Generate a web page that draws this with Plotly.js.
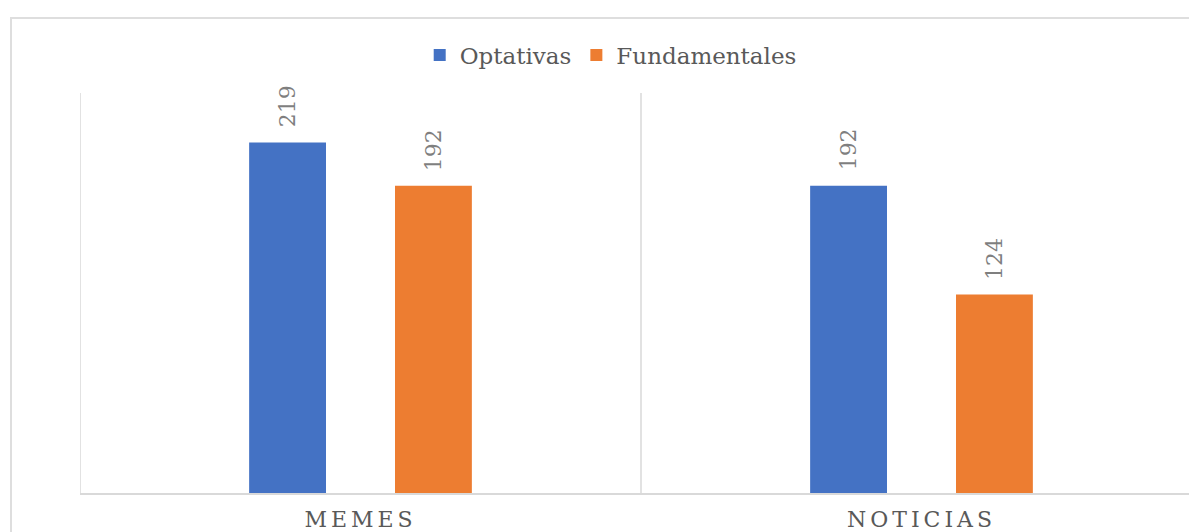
<!DOCTYPE html>
<html>
<head>
<meta charset="utf-8">
<script src="https://cdn.plot.ly/plotly-3.0.1.min.js"></script>
<style>
  html, body { margin: 0; padding: 0; overflow: hidden; background: #ffffff; width: 1189px; height: 532px; }
  #frame { position: absolute; left: 10px; top: 17px; width: 1250px; height: 540px; border: 2px solid #dedede; box-sizing: border-box; background: #fff; }
  #chart { width: 100%; height: 100%; }
  .xtick text { letter-spacing: 4px; }
</style>
</head>
<body>
<div id="frame"><div id="chart"></div></div>
<script>
// ---- data ----
var categories = ["MEMES", "NOTICIAS"];
var seriesNames = ["Optativas", "Fundamentales"];
var optativas = [219, 192];
var fundamentales = [192, 124];

var colors = ["#4472C4", "#ED7D31"];
var FONT = "DejaVu Serif, Georgia, serif";

var seriesValues = [optativas, fundamentales];
var traces = seriesValues.map(function (vals, i) {
  return {
    type: "bar",
    name: seriesNames[i],
    x: categories,
    y: vals,
    marker: { color: colors[i], line: { width: 0 } },
    hoverinfo: "skip"
  };
});

// data labels as rotated annotations above each bar
var annotations = [];
var offsets = [-0.13, 0.13];
seriesValues.forEach(function (vals, i) {
  vals.forEach(function (v, j) {
    annotations.push({
      x: j + offsets[i], y: v, xref: "x", yref: "y",
      text: String(v), showarrow: false, textangle: -90,
      xanchor: "center", yanchor: "bottom", yshift: 13,
      font: { family: FONT, size: 22, color: "#7f7f7f" }
    });
  });
});

// category separators
var shapes = [];
for (var k = 0; k <= categories.length; k++) {
  shapes.push({ type: "line", xref: "x", yref: "paper", x0: k - 0.5, x1: k - 0.5, y0: 0, y1: 1,
    line: { color: "#d9d9d9", width: 1.5 }, layer: "below" });
}

var layout = {
  width: 1250, height: 540,
  margin: { l: 68, r: 60, t: 74, b: 66 },
  paper_bgcolor: "#ffffff", plot_bgcolor: "#ffffff",
  barmode: "group", bargap: 0.48, bargroupgap: 0.473,
  showlegend: true,
  legend: {
    orientation: "h", x: 0.473, xanchor: "center", y: 1.095, yanchor: "middle",
    font: { family: FONT, size: 23, color: "#595959" },
    itemwidth: 30, tracegroupgap: 0
  },
  xaxis: {
    type: "category", range: [-0.5, 1.5], showgrid: false, zeroline: false,
    showline: true, linecolor: "#d9d9d9", linewidth: 2,
    ticks: "", ticklabelstandoff: 6,
    tickfont: { family: FONT, size: 22, color: "#595959" }
  },
  yaxis: {
    range: [0, 250], showgrid: false, zeroline: false, showticklabels: false,
    showline: false, ticks: ""
  },
  annotations: annotations,
  shapes: shapes
};

Plotly.newPlot("chart", traces, layout, { displayModeBar: false, staticPlot: true });
</script>
</body>
</html>
